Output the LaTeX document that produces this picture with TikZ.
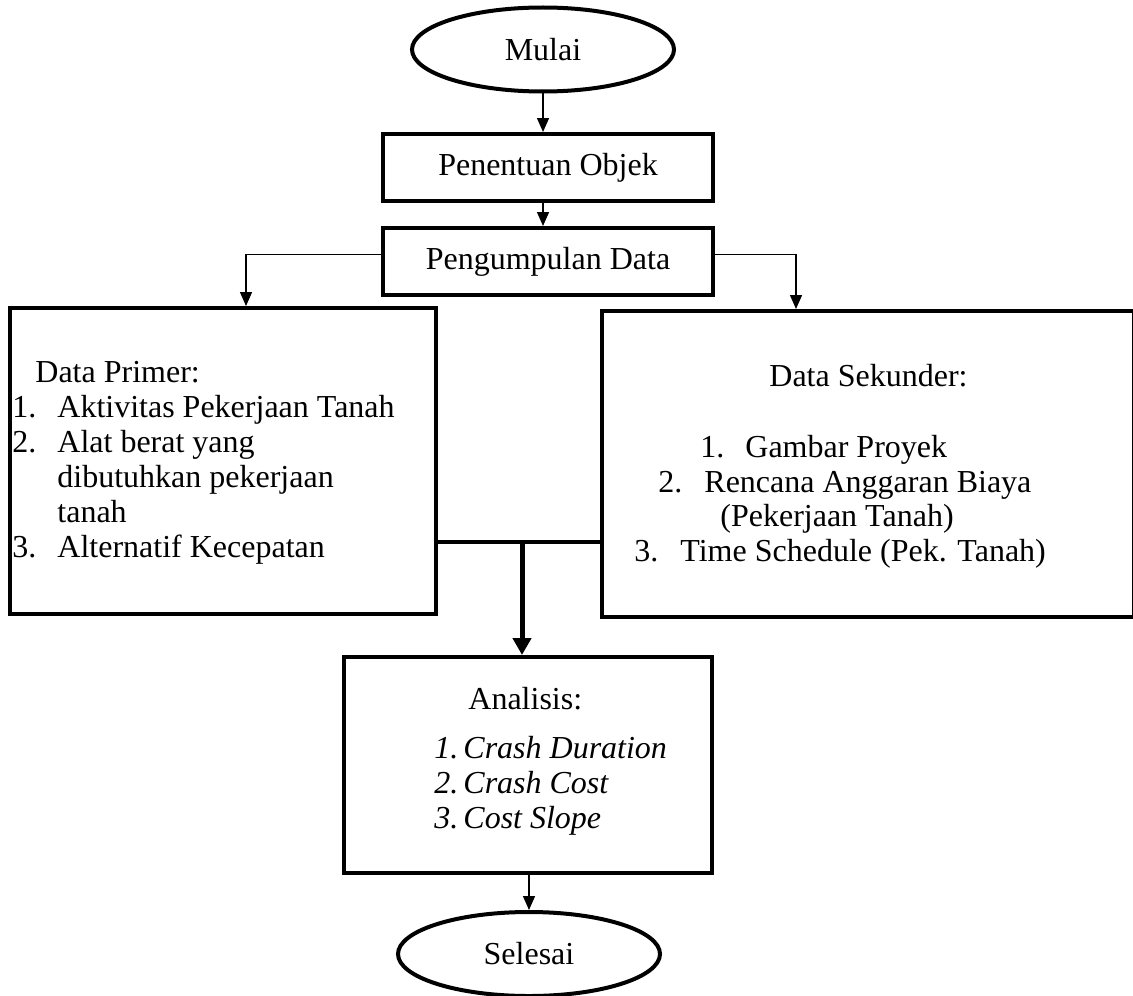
\documentclass[tikz,border=0pt]{standalone}
\usepackage{fontspec}
\setmainfont{Liberation Serif}
\usetikzlibrary{arrows.meta,shapes.geometric}
\begin{document}
\begin{tikzpicture}[x=0.5pt,y=-0.5pt,
    font=\fontsize{16}{19}\selectfont,
    box/.style={draw,line width=2pt,rectangle,inner sep=0pt},
    oval/.style={draw,line width=2pt,ellipse,inner sep=0pt,minimum width=131pt,minimum height=42pt},
    line/.style={line width=0.7pt,-{Triangle[width=6pt,length=7pt]}},
    bigline/.style={line width=2.5pt,-{Triangle[width=9pt,length=8.5pt]}}]
\useasboundingbox (0,0) rectangle (1133,995);
% start and end
\node[oval] (mulai) at (543,49.5) {Mulai};
\node[oval] (selesai) at (529,954) {Selesai};
% boxes
\node[box,minimum width=165pt,minimum height=33.5pt] (penentuan) at (548,167.5) {Penentuan Objek};
\node[box,minimum width=165pt,minimum height=33.5pt] (pengumpulan) at (548,261.5) {Pengumpulan Data};
\node[box,minimum width=213pt,minimum height=153pt] (primer) at (223,461) {};
\node[box,minimum width=266pt,minimum height=153pt] (sekunder) at (868,464) {};
\node[box,minimum width=184pt,minimum height=108pt] (analisis) at (528,765) {};
% texts in the boxes
\foreach \i/\x/\y/\n in {0/35/382/Data Primer:,1/12/417/1.,2/57/417/Aktivitas Pekerjaan Tanah,
    3/12/452/2.,4/57/452/Alat berat yang,5/57/487/dibutuhkan pekerjaan,6/57/522/tanah,
    7/12/557/3.,8/57/557/Alternatif Kecepatan}{
    \node[anchor=base west,inner sep=0pt] (dp\i) at (\x,\y) {\n};
}
\foreach \i/\x/\y/\n in {0/769/386/Data Sekunder:,1/700/457/1.,2/745/457/Gambar Proyek,
    3/658/492/2.,4/704/492/Rencana Anggaran Biaya,5/720/526/(Pekerjaan Tanah),
    6/634/561/3.,7/680/561/Time Schedule (Pek. Tanah)}{
    \node[anchor=base west,inner sep=0pt] (ds\i) at (\x,\y) {\n};
}
\node[anchor=base west,inner sep=0pt] (an0) at (468,709) {Analisis:};
\foreach \i/\y/\n in {1/758/Crash Duration,2/793/Crash Cost,3/828/Cost Slope}{
    \node[anchor=base west,inner sep=0pt,font=\fontsize{16}{19}\selectfont\itshape] (ann\i) at (434,\y) {\i.};
    \node[anchor=base west,inner sep=0pt,font=\fontsize{16}{19}\selectfont\itshape] (an\i) at (463,\y) {\n};
}
% connectors
\coordinate (join) at (522,542);
\draw[line] (mulai.south) -- (mulai.south |- penentuan.north);
\draw[line] (penentuan.south -| mulai) -- (pengumpulan.north -| mulai);
\draw[line] ([yshift=3.5pt]pengumpulan.west) -| ([xshift=11.5pt]primer.north);
\draw[line] ([yshift=3.5pt]pengumpulan.east) -| ([xshift=-36pt]sekunder.north);
\draw[line width=2pt] (join -| primer.east) -- (join -| sekunder.west);
\draw[bigline] (join) -- (join |- analisis.north);
\draw[line] (selesai.north |- analisis.south) -- (selesai.north);
\end{tikzpicture}
\end{document}
